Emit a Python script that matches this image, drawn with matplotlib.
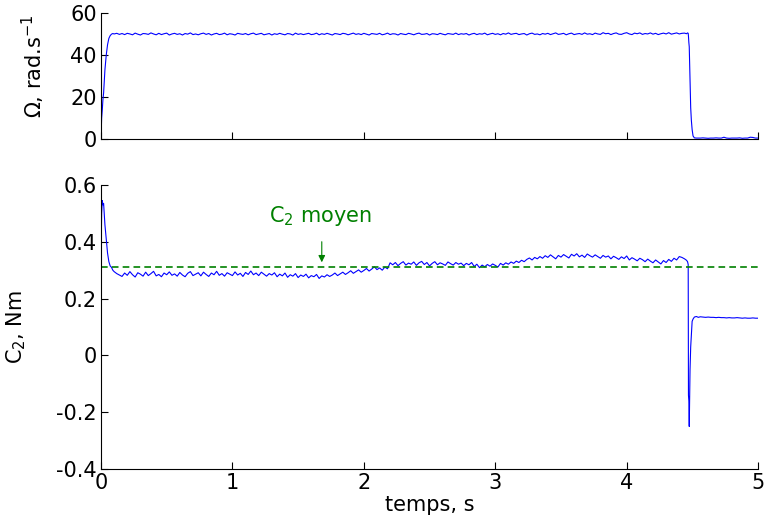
import numpy as np
import matplotlib
matplotlib.use('Agg')
import matplotlib.pyplot as plt

plt.rcParams['font.family'] = ['DejaVu Sans']
plt.rcParams['mathtext.fontset'] = 'dejavusans'

# start-up transient
t_start = [0, 0.005, 0.01, 0.015, 0.02, 0.03, 0.04, 0.05, 0.06, 0.07, 0.08, 0.09, 0.1, 0.12, 0.14]
om_start = [0, 10, 14, 19, 22, 33, 40, 45, 48, 49.3, 50.0, 50.3, 50.1, 50.4, 49.9]
c2_start = [0.34, 0.50, 0.545, 0.53, 0.535, 0.46, 0.41, 0.36, 0.33, 0.315, 0.31, 0.30, 0.295, 0.288, 0.283]

# steady run, sampled every 0.02 s from 0.16 s to 4.44 s
om_steady = [
    50.3, 49.8, 50.4, 50.1, 49.7, 50.5, 50.0, 49.6, 50.3, 50.2,
    49.9, 50.6, 50.1, 49.7, 50.4, 49.8, 50.2, 50.5, 49.6, 50.1,
    50.4, 49.9, 50.2, 49.6, 50.3, 50.0, 50.6, 49.8, 50.1, 49.7,
    50.2, 50.5, 49.9, 50.3, 49.6, 50.1, 50.4, 49.8, 50.0, 50.5,
    49.7, 50.2, 50.0, 49.6, 50.4, 50.1, 49.9, 50.3, 49.7, 50.2,
    50.5, 49.8, 50.1, 50.4, 49.7, 50.0, 50.3, 49.6, 50.2, 49.9,
    50.4, 50.0, 49.7, 50.3, 50.1, 49.6, 50.5, 49.9, 50.2, 49.8,
    50.1, 50.4, 49.8, 50.0, 50.5, 49.7, 50.2, 49.9, 50.4, 50.0,
    49.6, 50.3, 50.1, 49.8, 50.4, 50.2, 49.7, 50.1, 50.5, 49.9,
    50.2, 49.8, 50.4, 50.0, 49.6, 50.3, 50.1, 49.9, 50.4, 49.7,
    50.0, 50.5, 49.8, 50.2, 50.1, 49.6, 50.3, 50.0, 49.8, 50.4,
    50.1, 49.7, 50.2, 50.5, 49.9, 50.0, 50.3, 49.6, 50.2, 50.1,
    49.8, 50.4, 50.0, 49.7, 50.3, 50.1, 49.9, 50.5, 49.8, 50.2,
    50.0, 50.3, 49.6, 50.1, 50.4, 49.8, 50.2, 50.0, 50.5, 49.7,
    50.1, 50.4, 49.9, 50.2, 49.7, 50.3, 50.0, 50.6, 49.9, 50.2,
    50.4, 49.8, 50.1, 50.3, 49.6, 50.2, 50.5, 49.9, 50.1, 49.7,
    50.3, 50.0, 50.4, 49.8, 50.2, 50.6, 49.9, 50.1, 50.4, 49.7,
    50.2, 50.5, 49.8, 50.1, 50.3, 49.9, 50.6, 50.0, 50.2, 49.8,
    50.5, 50.1, 49.9, 50.7, 50.2, 50.4, 49.8, 50.3, 50.6, 50.0,
    49.9, 50.4, 50.7, 50.1, 49.8, 50.5, 50.2, 50.6, 49.9, 50.3,
    50.1, 50.6, 50.0, 50.4, 49.8, 50.2, 50.5, 50.1, 50.7, 50.0,
    50.3, 50.6, 50.1, 50.4, 50.5]
c2_steady = [
    0.278, 0.290, 0.282, 0.295, 0.284, 0.276, 0.291, 0.286, 0.279, 0.293,
    0.281, 0.288, 0.296, 0.280, 0.285, 0.277, 0.290, 0.284, 0.294, 0.282,
    0.287, 0.279, 0.292, 0.283, 0.277, 0.289, 0.295, 0.281, 0.286, 0.291,
    0.280, 0.293, 0.285, 0.278, 0.290, 0.284, 0.296, 0.282, 0.288, 0.279,
    0.291, 0.286, 0.281, 0.294, 0.283, 0.289, 0.278, 0.292, 0.285, 0.297,
    0.284, 0.290, 0.281, 0.293, 0.286, 0.279, 0.288, 0.283, 0.291, 0.277,
    0.286, 0.280, 0.290, 0.275, 0.284, 0.279, 0.288, 0.274, 0.283, 0.278,
    0.286, 0.273, 0.281, 0.277, 0.285, 0.271, 0.280, 0.276, 0.284, 0.278,
    0.283, 0.290, 0.281, 0.287, 0.293, 0.285, 0.291, 0.298, 0.289, 0.295,
    0.301, 0.293, 0.299, 0.306, 0.297, 0.304, 0.312, 0.302, 0.308, 0.300,
    0.311, 0.305, 0.326, 0.319, 0.327, 0.316, 0.324, 0.330, 0.318, 0.325,
    0.321, 0.329, 0.317, 0.326, 0.331, 0.320, 0.327, 0.315, 0.324, 0.330,
    0.319, 0.326, 0.322, 0.317, 0.329, 0.323, 0.318, 0.327, 0.321, 0.325,
    0.316, 0.324, 0.319, 0.327, 0.313, 0.321, 0.309, 0.318, 0.312, 0.320,
    0.314, 0.322, 0.317, 0.311, 0.324, 0.318, 0.326, 0.321, 0.329, 0.324,
    0.332, 0.327, 0.335, 0.330, 0.338, 0.343, 0.336, 0.345, 0.340, 0.348,
    0.342, 0.351, 0.345, 0.354, 0.347, 0.340, 0.352, 0.346, 0.355, 0.349,
    0.343, 0.356, 0.350, 0.358, 0.347, 0.353, 0.345, 0.357, 0.351, 0.346,
    0.354, 0.348, 0.342, 0.352, 0.346, 0.350, 0.340, 0.349, 0.344, 0.338,
    0.347, 0.341, 0.350, 0.336, 0.344, 0.339, 0.333, 0.342, 0.337, 0.330,
    0.339, 0.332, 0.326, 0.336, 0.329, 0.322, 0.334, 0.327, 0.338, 0.331,
    0.342, 0.336, 0.348, 0.345, 0.340]

# braking transient
t_drop = [4.455, 4.463, 4.468, 4.470, 4.473, 4.476, 4.479, 4.482, 4.487, 4.492, 4.498, 4.505, 4.515, 4.53, 4.545]
om_drop = [50.2, 50.6, 50.4, 49, 46, 44, 36, 29, 15, 9, 4.5, 1.5, 0.6, 0.5, 0.5]
c2_drop = [0.335, 0.33, 0.32, -0.14, -0.16, -0.25, -0.16, -0.05, 0.03, 0.07, 0.12, 0.128, 0.135, 0.137, 0.134]

# stopped, every 0.02 s from 4.56 s to 5.00 s
om_tail = [0.5, 0.6, 0.5, 0.4, 0.5, 0.5, 0.6, 0.5, 0.5, 0.9, 0.5, 0.4,
           0.5, 0.5, 0.5, 0.6, 0.4, 0.5, 0.5, 0.9, 0.8, 0.5, 0.5]
c2_tail = [0.136, 0.135, 0.134, 0.135, 0.134, 0.134, 0.133, 0.134, 0.133, 0.133, 0.132, 0.133,
           0.132, 0.132, 0.133, 0.132, 0.131, 0.132, 0.131, 0.131, 0.132, 0.131, 0.131]

c2_moyen = 0.31

t_steady = np.round(0.16 + 0.02 * np.arange(len(om_steady)), 3)
t_tail = np.round(4.56 + 0.02 * np.arange(len(om_tail)), 3)
t = np.concatenate([t_start, t_steady, t_drop, t_tail])
omega = np.concatenate([om_start, om_steady, om_drop, om_tail])
c2 = np.concatenate([c2_start, c2_steady, c2_drop, c2_tail])

fig = plt.figure(figsize=(7.65, 5.27), dpi=100)
ax1 = fig.add_axes([0.132, 0.736, 0.859, 0.239])
ax2 = fig.add_axes([0.132, 0.110, 0.859, 0.539])

fs = 15
for ax in (ax1, ax2):
    ax.spines['top'].set_visible(False)
    ax.spines['right'].set_visible(False)
    ax.tick_params(direction='in', length=5, width=0.8, labelsize=fs, pad=3)
    ax.set_xlim(0, 5)
    ax.set_xticks([0, 1, 2, 3, 4, 5])

ax1.plot(t, omega, color='#0000ff', lw=0.8)
ax1.set_ylim(0, 60)
ax1.set_yticks([0, 20, 40, 60])
ax1.set_xticklabels([])
ax1.set_ylabel('Ω, rad.s$^{\\mathrm{-1}}$', fontsize=fs)
ax1.yaxis.set_label_coords(-0.082, 0.58)

ax2.plot(t, c2, color='#0000ff', lw=0.8)
ax2.axhline(c2_moyen, color='#008000', lw=1.2, ls=(0, (4, 2.5)))
ax2.set_ylim(-0.4, 0.6)
ax2.set_yticks([-0.4, -0.2, 0, 0.2, 0.4, 0.6])
ax2.set_yticklabels(['-0.4', '-0.2', '0', '0.2', '0.4', '0.6'])
ax2.set_ylabel('C$_2$, Nm', fontsize=fs)
ax2.yaxis.set_label_coords(-0.111, 0.5)
ax2.set_xlabel('temps, s', fontsize=fs, labelpad=1)

ax2.annotate('', xy=(1.68, 0.318), xytext=(1.68, 0.41),
             arrowprops=dict(arrowstyle='-|>', color='#008000', lw=0.8, mutation_scale=10))
ax2.text(1.67, 0.49, 'C$_2$ moyen', color='#008000', fontsize=fs, ha='center', va='center')

fig.savefig('out.png', dpi=100)
